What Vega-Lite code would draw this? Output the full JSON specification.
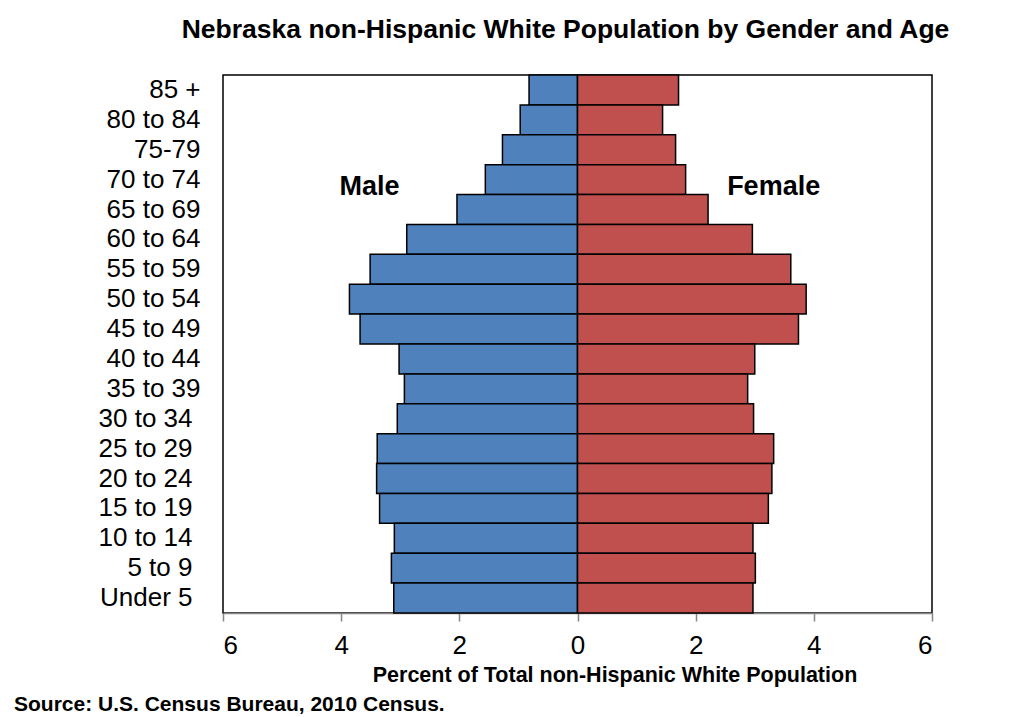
{
  "$schema": "https://vega.github.io/schema/vega-lite/v6.json",
  "background": "white",
  "padding": {"left": 14, "top": 16, "right": 0, "bottom": 0},
  "config": {
    "font": "Liberation Sans",
    "view": {"stroke": "#000000", "strokeWidth": 1.5},
    "concat": {"spacing": 0}
  },
  "title": {
    "text": "Source: U.S. Census Bureau, 2010 Census.",
    "orient": "bottom",
    "anchor": "start",
    "frame": "group",
    "fontSize": 21,
    "fontWeight": "bold",
    "color": "#000000",
    "offset": 8,
    "dx": -209
  },
  "datasets": {
    "pyramid": [
      {"age": "85 +", "sex": "Male", "percent": 0.82},
      {"age": "85 +", "sex": "Female", "percent": 1.71},
      {"age": "80 to 84", "sex": "Male", "percent": 0.97},
      {"age": "80 to 84", "sex": "Female", "percent": 1.44},
      {"age": "75-79", "sex": "Male", "percent": 1.27},
      {"age": "75-79", "sex": "Female", "percent": 1.66},
      {"age": "70 to 74", "sex": "Male", "percent": 1.56},
      {"age": "70 to 74", "sex": "Female", "percent": 1.83},
      {"age": "65 to 69", "sex": "Male", "percent": 2.04},
      {"age": "65 to 69", "sex": "Female", "percent": 2.21},
      {"age": "60 to 64", "sex": "Male", "percent": 2.89},
      {"age": "60 to 64", "sex": "Female", "percent": 2.96},
      {"age": "55 to 59", "sex": "Male", "percent": 3.51},
      {"age": "55 to 59", "sex": "Female", "percent": 3.61},
      {"age": "50 to 54", "sex": "Male", "percent": 3.86},
      {"age": "50 to 54", "sex": "Female", "percent": 3.87},
      {"age": "45 to 49", "sex": "Male", "percent": 3.68},
      {"age": "45 to 49", "sex": "Female", "percent": 3.74},
      {"age": "40 to 44", "sex": "Male", "percent": 3.02},
      {"age": "40 to 44", "sex": "Female", "percent": 3.00},
      {"age": "35 to 39", "sex": "Male", "percent": 2.93},
      {"age": "35 to 39", "sex": "Female", "percent": 2.88},
      {"age": "30 to 34", "sex": "Male", "percent": 3.05},
      {"age": "30 to 34", "sex": "Female", "percent": 2.98},
      {"age": "25 to 29", "sex": "Male", "percent": 3.39},
      {"age": "25 to 29", "sex": "Female", "percent": 3.32},
      {"age": "20 to 24", "sex": "Male", "percent": 3.40},
      {"age": "20 to 24", "sex": "Female", "percent": 3.29},
      {"age": "15 to 19", "sex": "Male", "percent": 3.35},
      {"age": "15 to 19", "sex": "Female", "percent": 3.23},
      {"age": "10 to 14", "sex": "Male", "percent": 3.10},
      {"age": "10 to 14", "sex": "Female", "percent": 2.97},
      {"age": "5 to 9", "sex": "Male", "percent": 3.15},
      {"age": "5 to 9", "sex": "Female", "percent": 3.01},
      {"age": "Under 5", "sex": "Male", "percent": 3.11},
      {"age": "Under 5", "sex": "Female", "percent": 2.97}
    ],
    "sexLabels": [
      {"label": "Male", "age": "70 to 74", "percent": -3.52},
      {"label": "Female", "age": "70 to 74", "percent": 3.32}
    ]
  },
  "vconcat": [
    {
      "width": 709,
      "height": 538,
      "title": {
        "text": "Nebraska non-Hispanic White Population by Gender and Age",
        "anchor": "middle",
        "frame": "group",
        "fontSize": 26.5,
        "fontWeight": "bold",
        "color": "#000000",
        "baseline": "alphabetic",
        "offset": 10,
        "dx": -12
      },
      "layer": [
        {
          "data": {"name": "pyramid"},
          "transform": [
            {"calculate": "datum.sex === 'Male' ? -datum.percent : datum.percent", "as": "signed"}
          ],
          "mark": {"type": "bar", "stroke": "#000000", "strokeWidth": 1.5},
          "encoding": {
            "y": {
              "field": "age",
              "type": "nominal",
              "sort": ["85 +", "80 to 84", "75-79", "70 to 74", "65 to 69", "60 to 64", "55 to 59", "50 to 54", "45 to 49", "40 to 44", "35 to 39", "30 to 34", "25 to 29", "20 to 24", "15 to 19", "10 to 14", "5 to 9", "Under 5"],
              "scale": {"paddingInner": 0, "paddingOuter": 0},
              "axis": {
                "title": null,
                "ticks": false,
                "tickSize": 0,
                "domain": false,
                "labelFontSize": 26,
                "labelColor": "#000000",
                "labelPadding": {
                  "condition": {"test": "indexof(['30 to 34', '25 to 29', '20 to 24', '15 to 19', '10 to 14', '5 to 9', 'Under 5'], datum.value) >= 0", "value": 31},
                  "value": 23
                }
              }
            },
            "x": {
              "field": "signed",
              "type": "quantitative",
              "scale": {"domain": [-6, 6], "nice": false},
              "axis": {
                "title": "Percent of Total non-Hispanic White Population",
                "values": [-6, -4, -2, 0, 2, 4, 6],
                "labelExpr": "abs(datum.value)",
                "grid": false,
                "domainColor": "#868686",
                "domainWidth": 1.5,
                "tickColor": "#868686",
                "tickWidth": 1.5,
                "tickSize": 8,
                "labelFontSize": 26,
                "labelColor": "#000000",
                "labelPadding": 11,
                "titleFontSize": 21.5,
                "titleFontWeight": "bold",
                "titleColor": "#000000",
                "titleBaseline": "alphabetic",
                "titleX": 391.5,
                "titleY": 68
              }
            },
            "color": {
              "field": "sex",
              "type": "nominal",
              "scale": {"domain": ["Male", "Female"], "range": ["#4F81BD", "#C0504D"]},
              "legend": null
            }
          }
        },
        {
          "mark": {"type": "rule", "color": "#7F7F7F", "strokeWidth": 1.5},
          "encoding": {"x": {"datum": 0, "type": "quantitative"}}
        },
        {
          "data": {"name": "sexLabels"},
          "mark": {"type": "text", "fontSize": 27, "fontWeight": "bold", "color": "#000000", "align": "center", "baseline": "middle", "dy": 7},
          "encoding": {
            "x": {"field": "percent", "type": "quantitative"},
            "y": {
              "field": "age",
              "type": "nominal",
              "sort": ["85 +", "80 to 84", "75-79", "70 to 74", "65 to 69", "60 to 64", "55 to 59", "50 to 54", "45 to 49", "40 to 44", "35 to 39", "30 to 34", "25 to 29", "20 to 24", "15 to 19", "10 to 14", "5 to 9", "Under 5"]
            },
            "text": {"field": "label"}
          }
        }
      ]
    }
  ]
}
